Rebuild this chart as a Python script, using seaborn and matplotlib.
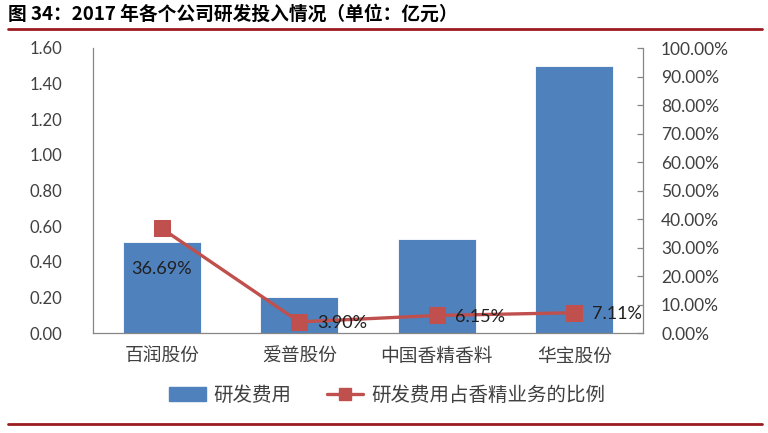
import matplotlib
matplotlib.use("Agg")
import matplotlib.pyplot as plt
import seaborn as sns
import pandas as pd
from matplotlib.lines import Line2D
from matplotlib.patches import Patch
from matplotlib.ticker import FuncFormatter, MultipleLocator

companies = ["百润股份", "爱普股份", "中国香精香料", "华宝股份"]
rd_expense = [0.51, 0.20, 0.53, 1.50]
rd_ratio = [36.69, 3.90, 6.15, 7.11]
bar_label = "研发费用"
line_label = "研发费用占香精业务的比例"
title = "图 34：2017 年各个公司研发投入情况（单位：亿元）"

sns.set_theme(style="white")
plt.rcParams['font.family'] = ['Noto Sans CJK SC', 'DejaVu Sans']

df = pd.DataFrame({"company": companies, "expense": rd_expense, "ratio": rd_ratio})

fig = plt.figure(figsize=(7.68, 4.33), dpi=100)
ax = fig.add_axes([93/768, 1-333/433, 550/768, 285/433])

BLUE = "#4F81BD"
RED = "#C0504D"
GRAY = "#868686"
TXT = "#404040"
NUMFONT = ['Lato', 'DejaVu Sans']

sns.barplot(data=df, x="company", y="expense", color=BLUE, width=0.57,
            saturation=1, ax=ax, edgecolor="white", linewidth=0.6)
ax.set_ylim(0, 1.6)
ax.yaxis.set_major_locator(MultipleLocator(0.2))
ax.yaxis.set_major_formatter(FuncFormatter(lambda v, p: f"{v:.2f}"))
ax.set_xlabel("")
ax.set_ylabel("")
ax.tick_params(axis="y", length=0, pad=22, labelsize=12, labelcolor=TXT)
ax.tick_params(axis="x", length=0, pad=9, labelsize=13.5, labelcolor=TXT)
for lab in ax.get_yticklabels():
    lab.set_family(NUMFONT)
for s in ["top", "right"]:
    ax.spines[s].set_visible(False)
for s in ["left", "bottom"]:
    ax.spines[s].set_color(GRAY)
    ax.spines[s].set_linewidth(0.9)

ax2 = ax.twinx()
xpos = list(range(len(companies)))
sns.lineplot(x=xpos, y=rd_ratio, ax=ax2, color=RED, linewidth=2.4,
             marker="s", markersize=12, markeredgecolor=RED, markerfacecolor=RED)
ax2.set_ylim(0, 100)
ax2.set_xlim(-0.5, len(companies) - 0.5)
ax2.yaxis.set_major_locator(MultipleLocator(10))
ax2.yaxis.set_major_formatter(FuncFormatter(lambda v, p: f"{v:.2f}%"))
ax2.tick_params(axis="y", direction="in", length=4, width=0.9, color=GRAY,
                pad=13, labelsize=12.5, labelcolor=TXT)
for lab in ax2.get_yticklabels():
    lab.set_family(NUMFONT)
for s in ["top", "left", "bottom"]:
    ax2.spines[s].set_visible(False)
ax2.spines["right"].set_color(GRAY)
ax2.spines["right"].set_linewidth(0.9)
ax2.set_ylabel("")

# data labels
for i, v in enumerate(rd_ratio):
    txt = f"{v:.2f}%"
    if i == 0:
        ax2.annotate(txt, (i, v), xytext=(0, -29), textcoords="offset points",
                     ha="center", va="center", fontsize=13, color="#1F1F1F",
                     family=NUMFONT)
    else:
        ax2.annotate(txt, (i, v), xytext=(13, -1), textcoords="offset points",
                     ha="left", va="center", fontsize=13, color="#1F1F1F",
                     family=NUMFONT)

handles = [Patch(facecolor=BLUE, edgecolor=BLUE),
           Line2D([0], [0], color=RED, lw=2.4, marker="s", markersize=8)]
fig.legend(handles, [bar_label, line_label], loc="center",
           bbox_to_anchor=(387/768, 1-395/433), ncol=2, frameon=False,
           fontsize=14, handlelength=1.9, columnspacing=1.8, handletextpad=0.4,
           labelcolor=TXT)

fig.text(8/768, 1-14/433, title, fontsize=13.5, fontweight="bold",
         ha="left", va="center", color="black")
fig.add_artist(Line2D([8/768, 762/768], [1-29/433, 1-29/433],
                      color="#9B1B1F", lw=2.0, transform=fig.transFigure))
fig.add_artist(Line2D([8/768, 762/768], [1-424/433, 1-424/433],
                      color="#9B1B1F", lw=2.0, transform=fig.transFigure))

if ax2.get_legend():
    ax2.get_legend().remove()

fig.savefig("out.png", dpi=100)
